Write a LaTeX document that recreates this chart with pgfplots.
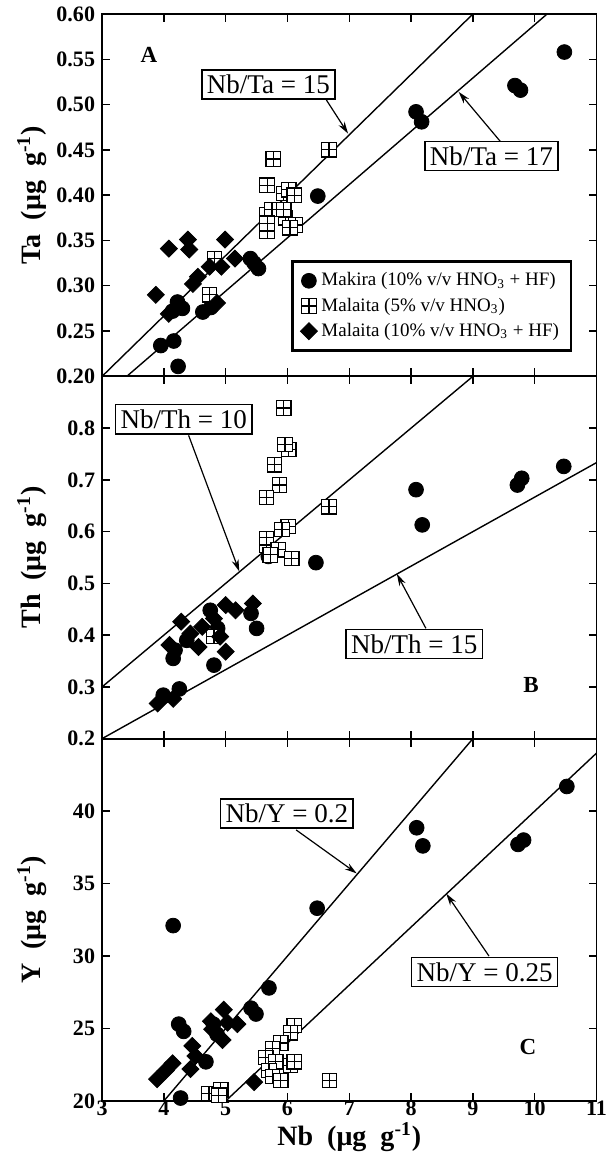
\documentclass[border=0pt]{standalone}
\usepackage{fontspec}
\setmainfont{Liberation Serif}
\usepackage{pgfplots}
\pgfplotsset{compat=1.18}
\usetikzlibrary{arrows.meta,calc}

% open square with a cross inside
\pgfdeclareplotmark{boxplus}{%
  \pgfpathrectangle{\pgfqpoint{-\pgfplotmarksize}{-\pgfplotmarksize}}{\pgfqpoint{2\pgfplotmarksize}{2\pgfplotmarksize}}%
  \pgfusepathqfillstroke
  \pgfpathmoveto{\pgfqpoint{-\pgfplotmarksize}{0pt}}\pgfpathlineto{\pgfqpoint{\pgfplotmarksize}{0pt}}%
  \pgfpathmoveto{\pgfqpoint{0pt}{-\pgfplotmarksize}}\pgfpathlineto{\pgfqpoint{0pt}{\pgfplotmarksize}}%
  \pgfusepathqstroke
}

\tikzset{
  boxlab/.style={draw, fill=white, line width=0.7pt, inner xsep=2.5pt, inner ysep=2.5pt, font=\fontsize{13.5}{15}\selectfont},
  arr/.style={line width=0.6pt, -{Stealth[length=6pt,width=3.5pt]}},
  letter/.style={font=\bfseries\fontsize{11.5}{13}\selectfont},
}

\pgfplotsset{
  panel/.style={
    scale only axis, width=247pt, height=181pt,
    xmin=3, xmax=11, xtick={3,4,5,6,7,8,9,10,11},
    tick align=inside, major tick length=4pt,
    axis line style={line width=0.9pt},
    every tick/.style={line width=0.7pt, black},
    /pgf/number format/assume math mode=true,
    tick label style={font=\bfseries\fontsize{11}{13}\selectfont},
    xticklabel style={yshift=3.5pt},
    label style={font=\bfseries\fontsize{14}{16}\selectfont},
    ylabel style={at={(axis description cs:-0.142,0.5)}, anchor=center},
    clip=false,
  },
  makira/.style={only marks, mark=*, mark size=3.7pt, mark options={fill=black, draw=black, line width=0.4pt}},
  mal5/.style={only marks, mark=boxplus, mark size=3.6pt, mark options={fill=white, draw=black, line width=0.6pt}},
  mal10/.style={only marks, mark=square*, mark size=3pt, mark options={rotate=45, fill=black, draw=black, line width=0.4pt}},
  ref/.style={black, line width=0.7pt, forget plot},
}

\begin{document}
\begin{tikzpicture}
% ---------------- A: Ta ----------------
\begin{axis}[panel, name=A, at={(0,0)}, anchor=north west,
    ymin=0.2, ymax=0.6,
    ytick={0.2,0.25,0.3,0.35,0.4,0.45,0.5,0.55,0.6},
    yticklabel style={/pgf/number format/.cd, fixed, fixed zerofill, precision=2},
    xticklabels={},
    ylabel={Ta\enspace(μg\enspace g\textsuperscript{-1})},
    legend style={at={(0.951,0.32)}, anchor=north east, draw=black, line width=1.3pt,
      fill=white, font=\fontsize{9.5}{11.5}\selectfont, inner xsep=4pt, inner ysep=3.5pt,
      row sep=0.5pt, cells={anchor=west}},
  ]
\addplot[ref] coordinates {(3,0.2) (9,0.6)};
\addplot[ref] coordinates {(3.4,0.2) (10.2,0.6)};
\addplot[makira] coordinates {
  (10.48,0.558) (9.68,0.521) (9.77,0.516) (8.08,0.492) (8.17,0.481) (6.49,0.399)
  (5.40,0.330) (5.46,0.325) (5.53,0.319) (4.22,0.282) (4.30,0.275) (4.14,0.272)
  (4.63,0.271) (4.76,0.276) (3.95,0.234) (4.16,0.239) (4.23,0.211)
};
\addlegendentry{Makira (10\% v/v HNO\textsubscript{3} + HF)}
\addplot[mal5] coordinates {
  (5.77,0.440) (6.67,0.450) (5.67,0.411) (5.94,0.402) (6.02,0.406) (6.11,0.400)
  (5.67,0.378) (5.75,0.384) (5.67,0.360) (5.67,0.369) (5.97,0.375) (5.94,0.384)
  (6.13,0.367) (6.04,0.364) (4.82,0.330) (4.74,0.290)
};
\addlegendentry{Malaita (5\% v/v HNO\textsubscript{3})}
\addplot[mal10] coordinates {
  (4.08,0.341) (4.39,0.351) (4.41,0.340) (4.99,0.351) (3.87,0.290) (4.55,0.310)
  (4.47,0.302) (4.74,0.321) (4.93,0.321) (5.15,0.330) (4.08,0.269) (4.86,0.281)
};
\addlegendentry{Malaita (10\% v/v HNO\textsubscript{3} + HF)}
\draw[arr] (axis cs:6.63,0.505) -- (axis cs:6.98,0.468);
\draw[arr] (axis cs:9.46,0.458) -- (axis cs:8.77,0.514);
\node[boxlab] at (axis cs:5.69,0.522) {Nb/Ta = 15};
\node[boxlab] at (axis cs:9.30,0.443) {Nb/Ta = 17};
\node[letter] at (axis cs:3.76,0.555) {A};
\end{axis}

% ---------------- B: Th ----------------
\begin{axis}[panel, name=B, at={(A.south west)}, anchor=north west,
    ymin=0.2, ymax=0.9,
    ytick={0.2,0.3,0.4,0.5,0.6,0.7,0.8},
    yticklabel style={/pgf/number format/.cd, fixed, fixed zerofill, precision=1},
    xticklabels={},
    ylabel={Th\enspace(μg\enspace g\textsuperscript{-1})},
  ]
\addplot[ref] coordinates {(3,0.3) (9,0.9)};
\addplot[ref] coordinates {(3,0.2) (11,0.7333)};
\addplot[makira] coordinates {
  (10.47,0.726) (9.72,0.690) (9.79,0.703) (8.08,0.681) (8.18,0.613) (6.46,0.540)
  (5.69,0.552) (5.50,0.413) (4.15,0.355) (4.81,0.342) (3.99,0.284) (4.25,0.296)
  (4.18,0.371) (4.37,0.390) (4.75,0.448) (5.41,0.442) (4.87,0.413)
};
\addplot[mal5] coordinates {
  (5.94,0.839) (6.02,0.759) (5.96,0.768) (5.79,0.729) (5.87,0.690) (5.66,0.666)
  (6.67,0.648) (6.01,0.610) (5.91,0.604) (5.66,0.587) (5.66,0.574) (5.85,0.565)
  (5.72,0.555) (6.07,0.548) (4.81,0.397)
};
\addplot[mal10] coordinates {
  (3.90,0.268) (4.15,0.277) (4.09,0.381) (4.28,0.426) (4.43,0.403) (4.56,0.377)
  (4.81,0.432) (5.00,0.458) (5.16,0.448) (5.44,0.461) (5.00,0.368) (4.91,0.397)
  (4.62,0.416)
};
\draw[arr] (axis cs:4.40,0.786) -- (axis cs:5.22,0.523);
\draw[arr] (axis cs:8.24,0.413) -- (axis cs:7.77,0.518);
\node[boxlab] at (axis cs:4.32,0.817) {Nb/Th = 10};
\node[boxlab] at (axis cs:8.05,0.383) {Nb/Th = 15};
\node[letter] at (axis cs:9.94,0.303) {B};
\end{axis}

% ---------------- C: Y ----------------
\begin{axis}[panel, name=C, at={(B.south west)}, anchor=north west,
    ymin=20, ymax=45,
    ytick={20,25,30,35,40},
    ylabel={Y\enspace(μg\enspace g\textsuperscript{-1})},
    xlabel={Nb\enspace(μg\enspace g\textsuperscript{-1})},
    xlabel style={at={(axis description cs:0.5,-0.1)}, anchor=center},
  ]
\addplot[ref] coordinates {(4,20) (9,45)};
\addplot[ref] coordinates {(5,20) (11,44)};
\addplot[makira] coordinates {
  (10.52,41.7) (9.73,37.7) (9.82,38.0) (8.09,38.85) (8.19,37.6) (6.48,33.3)
  (4.15,32.1) (5.70,27.8) (5.41,26.4) (5.49,26.0) (4.24,25.3) (4.32,24.8)
  (4.86,24.6) (4.68,22.7) (4.27,20.2) (4.80,25.3)
};
\addplot[mal5] coordinates {
  (4.73,20.5) (4.92,20.75) (4.89,20.4) (6.11,25.2) (6.05,24.7) (5.89,24.0)
  (5.76,23.6) (5.65,23.0) (5.81,22.7) (6.05,22.45) (6.11,22.7) (5.70,22.1)
  (5.76,21.7) (5.89,21.4) (6.68,21.4)
};
\addplot[mal10] coordinates {
  (4.97,26.3) (4.76,25.5) (4.78,24.95) (5.03,25.4) (5.19,25.3) (4.95,24.2)
  (4.46,23.8) (4.51,23.1) (4.43,22.2) (4.14,22.6) (4.03,22.1) (3.89,21.5)
  (5.46,21.3)
};
\draw[arr] (axis cs:6.14,38.7) -- (axis cs:7.12,35.7);
\draw[arr] (axis cs:9.26,30.0) -- (axis cs:8.57,34.3);
\node[boxlab] at (axis cs:5.99,39.84) {Nb/Y = 0.2};
\node[boxlab] at (axis cs:9.19,28.9) {Nb/Y = 0.25};
\node[letter] at (axis cs:9.89,23.7) {C};
\end{axis}
% page margins as in the reference
\pgfresetboundingbox
\path[use as bounding box] ($(A.north west)+(-51pt,7pt)$) rectangle ($(C.south east)+(6pt,-34.5pt)$);
\end{tikzpicture}
\end{document}
